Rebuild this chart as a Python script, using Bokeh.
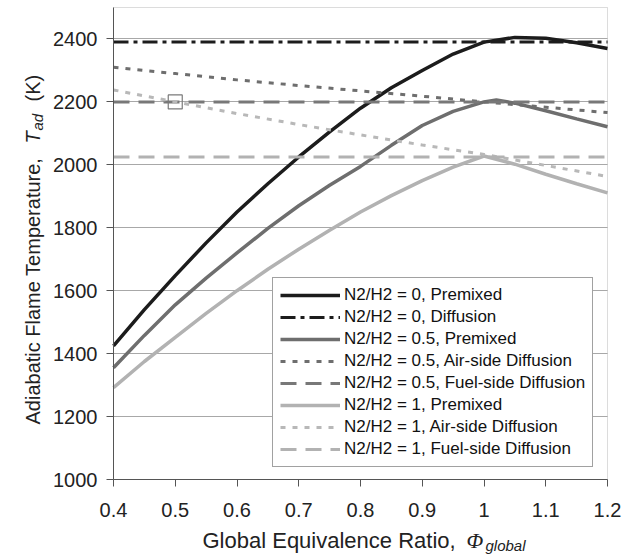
import numpy as np
from bokeh.plotting import figure
from bokeh.models import (Range1d, FixedTicker, NumeralTickFormatter, Label,
                          Legend, LegendItem, BoxAnnotation)
from bokeh.embed import file_html
from bokeh.resources import INLINE

# ---- data ----
phi_prem_0 = [0.4, 0.45, 0.5, 0.55, 0.6, 0.65, 0.7, 0.75, 0.8, 0.85, 0.9, 0.95, 1.0, 1.05, 1.1, 1.15, 1.2]
t_prem_0 = [1425, 1540, 1648, 1752, 1850, 1940, 2025, 2105, 2180, 2245, 2300, 2352, 2390, 2405, 2402, 2388, 2370]

phi_prem_05 = [0.4, 0.45, 0.5, 0.55, 0.6, 0.65, 0.7, 0.75, 0.8, 0.85, 0.9, 0.95, 1.0, 1.02, 1.05, 1.1, 1.15, 1.2]
t_prem_05 = [1355, 1458, 1555, 1640, 1720, 1798, 1870, 1935, 1995, 2062, 2125, 2170, 2200, 2206, 2196, 2172, 2146, 2121]

phi_prem_1 = [0.4, 0.45, 0.5, 0.55, 0.6, 0.65, 0.7, 0.75, 0.8, 0.85, 0.9, 0.95, 1.0, 1.05, 1.1, 1.15, 1.2]
t_prem_1 = [1292, 1375, 1452, 1528, 1600, 1668, 1732, 1792, 1850, 1902, 1950, 1993, 2028, 2002, 1970, 1940, 1911]

phi_air = [0.4, 0.5, 0.6, 0.7, 0.8, 0.9, 1.0, 1.1, 1.2]
t_air_05 = [2310, 2290, 2270, 2252, 2235, 2218, 2200, 2183, 2166]
t_air_1 = [2238, 2200, 2163, 2128, 2095, 2063, 2033, 1998, 1963]

phi_diff = [0.4, 1.2]
t_diff_0 = [2390, 2390]
t_fuel_05 = [2200, 2200]
t_fuel_1 = [2025, 2025]

marker_phi = [0.5]
marker_t = [2200]

x_axis_range = (0.4, 1.2)
y_axis_range = (1000, 2500)
x_ticks = [0.4, 0.5, 0.6, 0.7, 0.8, 0.9, 1.0, 1.1, 1.2]
y_ticks = [1000, 1200, 1400, 1600, 1800, 2000, 2200, 2400]

legend_labels = [
    "N2/H2 = 0, Premixed",
    "N2/H2 = 0, Diffusion",
    "N2/H2 = 0.5, Premixed",
    "N2/H2 = 0.5, Air-side Diffusion",
    "N2/H2 = 0.5, Fuel-side Diffusion",
    "N2/H2 = 1, Premixed",
    "N2/H2 = 1, Air-side Diffusion",
    "N2/H2 = 1, Fuel-side Diffusion",
]

FONT = "Liberation Sans"
BLACK = "#1c1c1c"
MID = "#6e6e6e"
LIGHT = "#b2b2b2"
TXT = "#222222"

# ---- layout: the frame covers the whole canvas; the plot box is placed inside it
W, H = 622, 554
BOX_L, BOX_R, BOX_T, BOX_B = 113, 607, 7, 479          # pixel edges of the plot box
xs = (x_axis_range[1] - x_axis_range[0]) / (BOX_R - BOX_L)
ys = (y_axis_range[1] - y_axis_range[0]) / (BOX_B - BOX_T)
x_rng = Range1d(x_axis_range[0] - BOX_L * xs, x_axis_range[1] + (W - BOX_R) * xs)
y_rng = Range1d(y_axis_range[0] - (H - BOX_B) * ys, y_axis_range[1] + BOX_T * ys)

p = figure(width=W, height=H, output_backend="svg", toolbar_location=None,
           x_range=x_rng, y_range=y_rng, min_border=0)
p.background_fill_color = "white"
p.border_fill_color = "white"
p.outline_line_color = None

# plot box outline
p.add_layout(BoxAnnotation(left=x_axis_range[0], right=x_axis_range[1],
                           bottom=y_axis_range[0], top=y_axis_range[1],
                           fill_color=None, line_color="#8a8a8a", line_width=1,
                           level="underlay"))

# axes
p.xaxis.fixed_location = y_axis_range[0]
p.yaxis.fixed_location = x_axis_range[0]
p.xaxis.bounds = x_axis_range
p.yaxis.bounds = y_axis_range
p.xaxis.ticker = FixedTicker(ticks=x_ticks)
p.yaxis.ticker = FixedTicker(ticks=y_ticks)
p.xaxis.formatter = NumeralTickFormatter(format="0.[0]")
p.yaxis.formatter = NumeralTickFormatter(format="0")
for ax in (p.xaxis, p.yaxis):
    ax.axis_line_color = "#555555"
    ax.axis_line_width = 1
    ax.major_tick_line_color = "#555555"
    ax.major_tick_out = 7
    ax.major_tick_in = 0
    ax.minor_tick_line_color = None
    ax.major_label_text_font = FONT
    ax.major_label_text_font_size = "20px"
    ax.major_label_text_color = TXT
p.xaxis.major_label_standoff = 16
p.yaxis.major_label_standoff = 9

p.xgrid.grid_line_color = None
p.ygrid.grid_line_color = "#a8a8a8"
p.ygrid.grid_line_width = 1
p.ygrid.ticker = FixedTicker(ticks=y_ticks[1:])
p.ygrid.cross_bounds = x_axis_range

# series
r1 = p.line(phi_prem_0, t_prem_0, line_color=BLACK, line_width=3.5)
r2 = p.line(phi_diff, t_diff_0, line_color=BLACK, line_width=3, line_dash="15 5 4 5")
r3 = p.line(phi_prem_05, t_prem_05, line_color=MID, line_width=3.5)
r4 = p.line(phi_air, t_air_05, line_color=MID, line_width=3, line_dash="5 7")
r5 = p.line(phi_diff, t_fuel_05, line_color="#787878", line_width=3, line_dash="16 9")
r6 = p.line(phi_prem_1, t_prem_1, line_color=LIGHT, line_width=3.5)
r7 = p.line(phi_air, t_air_1, line_color="#b8b8b8", line_width=3, line_dash="5 7")
r8 = p.line(phi_diff, t_fuel_1, line_color=LIGHT, line_width=3, line_dash="16 9")

p.scatter(marker_phi, marker_t, marker="square", size=14, line_color="#7a7a7a",
          line_width=1.2, fill_alpha=0)

renderers = [r1, r2, r3, r4, r5, r6, r7, r8]
legend = Legend(items=[LegendItem(label=l, renderers=[r]) for l, r in zip(legend_labels, renderers)],
                location=(272, H - 467), padding=7, spacing=2,
                label_height=20, glyph_height=20, glyph_width=60, label_standoff=4,
                label_text_font=FONT, label_text_font_size="17px", label_text_color="#111111",
                border_line_color="#444444", border_line_width=1,
                background_fill_color="white", background_fill_alpha=1.0)
p.add_layout(legend)


def add_text(txt, x, y, size, angle=0.0, style="normal", font=FONT):
    p.add_layout(Label(x=x, y=y, x_units="screen", y_units="screen", text=txt,
                       angle=angle, text_font=font, text_font_style=style,
                       text_font_size=size, text_color=TXT,
                       text_align="left", text_baseline="middle"))


# y axis title (pieces; screen units from the canvas bottom-left, x = text centre line)
yc = 32
y0 = H - 424
add_text("Adiabatic Flame Temperature,", yc, y0, "20px", np.pi / 2)
add_text("T", yc, y0 + 281, "20px", np.pi / 2, "italic")
add_text("ad", yc + 5, y0 + 294, "15px", np.pi / 2, "italic")
add_text("(K)", yc, y0 + 323, "20px", np.pi / 2)

# x axis title
xc = H - 540
x0 = 202
add_text("Global Equivalence Ratio,", x0, xc, "22px")
add_text("\u03a6", x0 + 264, xc, "22px", 0.0, "italic", "Liberation Serif")
add_text("global", x0 + 283, xc - 5, "15px", 0.0, "italic")

open("out.html", "w").write(file_html(p, INLINE))
